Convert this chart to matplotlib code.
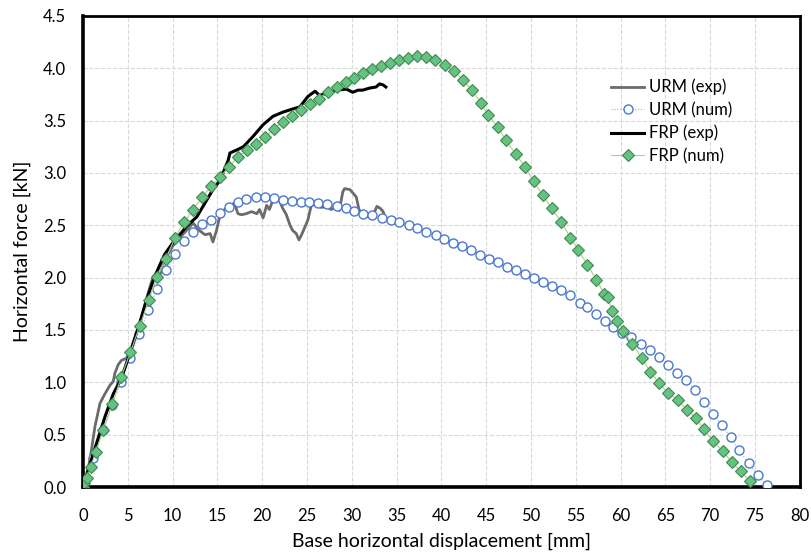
import matplotlib.pyplot as plt

# URM experimental curve (grey, jagged)
urm_exp_x = [0, 0.4, 0.78, 1.34, 1.9, 2.45, 3.0, 3.38, 3.57, 3.94, 4.3, 4.86, 5.24, 5.8, 6.5, 7.1,
             7.47, 7.84, 8.2, 8.6, 9.0, 10.0, 11.0, 11.55, 12.3, 13.0, 13.6, 14.2, 14.5, 14.9,
             15.3, 15.8, 16.4, 16.9, 17.3, 17.7, 18.2, 18.8, 19.4, 19.7, 20.1, 20.5, 20.8,
             21.2, 21.6, 22.0, 22.3, 22.7, 23.1, 23.4, 23.8, 24.1, 24.4, 24.7, 25.1, 25.5,
             26.0, 26.6, 27.2, 27.7, 28.3, 28.6, 29.0, 29.2, 29.8, 30.1, 30.5, 30.8, 31.2,
             31.8, 32.4, 32.8, 33.2, 33.5, 33.7]
urm_exp_y = [0, 0.12, 0.26, 0.58, 0.80, 0.89, 0.97, 1.01, 1.09, 1.17, 1.21, 1.23, 1.29, 1.42, 1.60,
             1.80, 1.91, 2.01, 2.04, 2.03, 2.15, 2.30, 2.40, 2.45, 2.52, 2.45, 2.41, 2.42, 2.34,
             2.45, 2.60, 2.65, 2.69, 2.71, 2.61, 2.60, 2.61, 2.63, 2.61, 2.65, 2.57, 2.69, 2.65,
             2.74, 2.77, 2.72, 2.66, 2.60, 2.50, 2.45, 2.42, 2.36, 2.41, 2.47, 2.55, 2.70,
             2.69, 2.67, 2.68, 2.65, 2.68, 2.64, 2.82, 2.85, 2.84, 2.81, 2.77, 2.65, 2.60,
             2.58, 2.60, 2.68, 2.66, 2.63, 2.58]

# URM numerical model
urm_num_x = [0, 1.1, 2.2, 3.2, 4.24, 5.24, 6.28, 7.28, 8.28, 9.25, 10.3, 11.3, 12.3, 13.3, 14.3,
             15.3, 16.3, 17.3, 18.2, 19.3, 20.3, 21.3, 22.3, 23.3, 24.3, 25.2, 26.2, 27.2,
             28.3, 29.3, 30.3, 31.2, 32.3, 33.4, 34.4, 35.3, 36.4, 37.3, 38.3, 39.4, 40.3,
             41.3, 42.3, 43.3, 44.3, 45.3, 46.3, 47.3, 48.3, 49.3, 50.3, 51.3, 52.3, 53.3,
             54.4, 55.5, 56.3, 57.3, 58.3, 59.2, 60.2, 61.2, 62.3, 63.3, 64.3, 65.3, 66.3,
             67.3, 68.3, 69.3, 70.3, 71.3, 72.3, 73.2, 74.3, 75.3, 76.3]
urm_num_y = [0, 0.28, 0.54, 0.78, 1.00, 1.23, 1.46, 1.69, 1.89, 2.07, 2.23, 2.35, 2.44, 2.51, 2.55,
             2.62, 2.67, 2.72, 2.75, 2.77, 2.77, 2.76, 2.74, 2.73, 2.72, 2.72, 2.71, 2.70,
             2.68, 2.66, 2.64, 2.61, 2.60, 2.57, 2.55, 2.53, 2.50, 2.47, 2.44, 2.41, 2.37,
             2.33, 2.30, 2.26, 2.22, 2.18, 2.15, 2.10, 2.07, 2.03, 2.00, 1.96, 1.92, 1.88,
             1.83, 1.76, 1.72, 1.65, 1.59, 1.53, 1.47, 1.43, 1.37, 1.31, 1.24, 1.17, 1.09,
             1.02, 0.93, 0.81, 0.70, 0.59, 0.48, 0.35, 0.23, 0.11, 0.02]

# FRP experimental curve (black)
frp_exp_x = [0, 1.15, 2.45, 3.38, 4.3, 5.24, 6.2, 7.1, 8.0, 9.1, 10.25, 11.0, 11.55, 12.7, 13.6,
             14.5, 15.3, 16.2, 16.4, 17.2, 17.9, 19.0, 20.1, 21.2, 22.3, 23.4, 24.2, 25.1,
             25.9, 26.4, 27.2, 28.3, 29.4, 30.1, 30.7, 31.2, 32.0, 32.7, 33.1, 33.5, 33.8]
frp_exp_y = [0, 0.32, 0.67, 0.89, 1.04, 1.28, 1.53, 1.79, 2.01, 2.22, 2.36, 2.43, 2.49, 2.58, 2.71,
             2.84, 2.93, 3.12, 3.19, 3.22, 3.25, 3.35, 3.46, 3.54, 3.58, 3.61, 3.63, 3.73,
             3.78, 3.74, 3.76, 3.79, 3.80, 3.77, 3.79, 3.79, 3.81, 3.82, 3.85, 3.84, 3.82]

# FRP numerical model
frp_num_x = [0, 0.15, 0.4, 0.86, 1.4, 2.27, 3.27, 4.27, 5.3, 6.35, 7.36, 8.3, 9.25, 10.26, 11.3,
             12.3, 13.3, 14.3, 15.3, 16.3, 17.3, 18.3, 19.3, 20.3, 21.3, 22.3, 23.3, 24.3,
             25.3, 26.3, 27.3, 28.3, 29.3, 30.3, 31.3, 32.3, 33.3, 34.3, 35.3, 36.3, 37.3,
             38.3, 39.3, 40.4, 41.4, 42.4, 43.4, 44.4, 45.2, 46.3, 47.2, 48.3, 49.3, 50.3,
             51.3, 52.3, 53.4, 54.4, 55.3, 56.3, 57.3, 58.2, 58.6, 59.0, 59.6, 60.3, 61.3,
             62.4, 63.3, 64.3, 65.3, 66.4, 67.4, 68.4, 69.3, 70.3, 71.4, 72.4, 73.4, 74.4]
frp_num_y = [0, 0.035, 0.09, 0.19, 0.33, 0.54, 0.79, 1.05, 1.29, 1.54, 1.79, 2.01, 2.18, 2.38, 2.53,
             2.65, 2.77, 2.87, 2.96, 3.06, 3.15, 3.22, 3.28, 3.34, 3.42, 3.49, 3.54, 3.60,
             3.66, 3.71, 3.77, 3.82, 3.87, 3.91, 3.95, 3.99, 4.02, 4.05, 4.08, 4.10, 4.12,
             4.11, 4.08, 4.03, 3.97, 3.89, 3.79, 3.67, 3.55, 3.44, 3.31, 3.18, 3.06, 2.92,
             2.79, 2.66, 2.53, 2.38, 2.26, 2.12, 1.98, 1.84, 1.81, 1.68, 1.59, 1.49, 1.37,
             1.23, 1.10, 0.99, 0.90, 0.83, 0.74, 0.66, 0.55, 0.44, 0.34, 0.24, 0.15, 0.06]

plt.rcParams['font.family'] = ['Lato', 'DejaVu Sans']

fig = plt.figure(figsize=(8.12, 5.55), dpi=100)
ax = fig.add_axes([0.1022, 0.1225, 0.8828, 0.849])

ax.plot(urm_exp_x, urm_exp_y, color='#6b6b6b', linewidth=2, label='URM (exp)', zorder=3)
ax.plot(urm_num_x, urm_num_y, color='#8fb0e3', linewidth=0.8, linestyle=':',
        marker='o', markersize=6.5, markerfacecolor='white', markeredgecolor='#4a78d0',
        markeredgewidth=1.0, label='URM (num)', zorder=4)
ax.plot(frp_exp_x, frp_exp_y, color='black', linewidth=2.2, label='FRP (exp)', zorder=5)
ax.plot(frp_num_x, frp_num_y, color='#a9d18e', linewidth=0.8,
        marker='D', markersize=6, markerfacecolor='#66c283', markeredgecolor='#3f8a4f',
        markeredgewidth=0.8, label='FRP (num)', zorder=6)

ax.set_xlim(0, 80)
ax.set_ylim(0, 4.5)
ax.set_xticks(range(0, 81, 5))
ax.set_yticks([i * 0.5 for i in range(10)])
ax.set_yticklabels([f'{i * 0.5:.1f}' for i in range(10)])
ax.tick_params(length=0, labelsize=12)
ax.tick_params(axis='x', pad=15)
ax.tick_params(axis='y', pad=12)
ax.grid(True, color='#d9d9d9', linestyle='--', linewidth=0.8)
ax.set_axisbelow(True)
for s in ax.spines.values():
    s.set_linewidth(2)
ax.spines['left'].set_linewidth(2.6)
ax.spines['bottom'].set_linewidth(2.6)

ax.set_xlabel('Base horizontal displacement [mm]', fontsize=14, labelpad=6)
ax.set_ylabel('Horizontal force [kN]', fontsize=14, labelpad=9)

ax.legend(loc='upper left', bbox_to_anchor=(0.7155, 0.898), frameon=False, fontsize=12,
          handlelength=2.0, handletextpad=0.3, labelspacing=0.4)

plt.savefig('out.png', dpi=100)
